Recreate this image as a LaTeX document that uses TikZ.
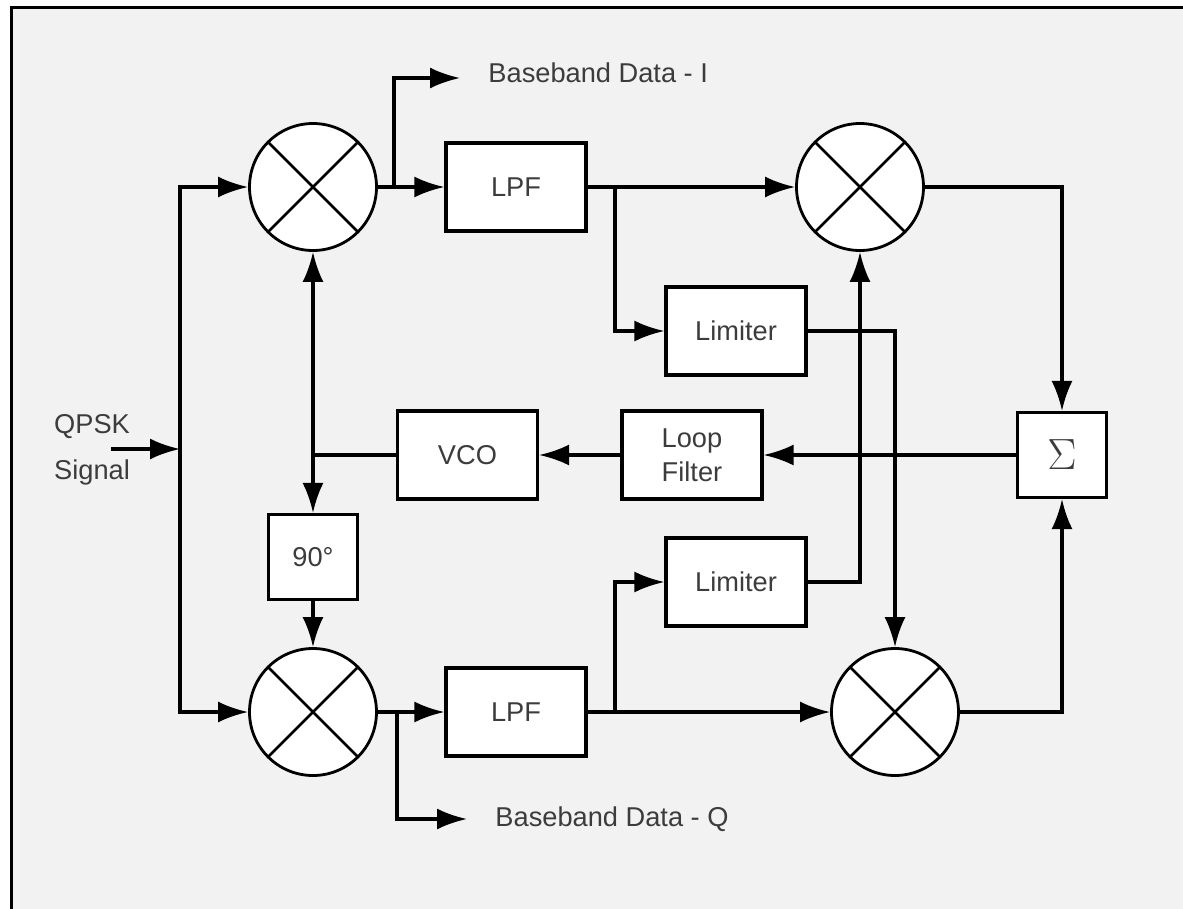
\documentclass[tikz,border=0pt]{standalone}
\usepackage{amsmath}
\usepackage{fontspec}
\setmainfont{Liberation Sans}
\usepackage{tikz}
\usetikzlibrary{positioning,arrows.meta,calc}
\definecolor{bgcol}{RGB}{241,242,241}
\definecolor{txtcol}{RGB}{60,60,60}

\begin{document}
\begin{tikzpicture}[
    >={Latex[length=6mm,width=4.2mm]},
    line width=1.8pt,
    every node/.style={font=\fontsize{15.5}{19.5}\selectfont, text=txtcol},
    blk/.style={draw, fill=white, minimum width=2.8cm, minimum height=1.76cm, inner sep=0pt},
    sq/.style={draw, fill=white, minimum width=1.78cm, minimum height=1.7cm, inner sep=0pt},
    mix/.style={draw, circle, fill=white, minimum size=2.54cm, inner sep=0pt, line width=1.6pt,
        path picture={\draw[line width=1.5pt]
            (path picture bounding box.north west) -- (path picture bounding box.south east)
            (path picture bounding box.north east) -- (path picture bounding box.south west);}}
  ]
    %frame
    \clip (0,0) rectangle (23.66,-18.18);
    \fill[bgcol] (0.23,-0.146) rectangle (24,-19);
    \draw (0.23,-19) |- (24,-0.146);

    %coordinates
    \coordinate (in)    at (2.22,-8.98);
    \coordinate (split) at (3.6,-8.98);
    \coordinate (lo)    at (6.26,-9.1);

    \coordinate (bI)  at (7.88,-3.74);
    \coordinate (outI) at ($(bI) + (1.32,2.18)$);
    \coordinate (bQ)  at (7.94,-14.24);
    \coordinate (outQ) at ($(bQ) + (1.4,-2.14)$);

    \coordinate (brI) at (12.3,-3.74);
    \coordinate (brQ) at (12.3,-14.24);

    %nodes
    \node[mix] (MI) at (6.26,-3.74) {};
    \node[mix] (MQ) at (6.26,-14.24) {};
    \node[mix] (MA) at (17.2,-3.74) {};
    \node[mix] (MB) at (17.9,-14.24) {};

    \node[blk] (LPFI) at (10.32,-3.74) {LPF};
    \node[blk] (LPFQ) at (10.32,-14.24) {LPF};
    \node[blk] (LimI) at (14.72,-6.62) {Limiter};
    \node[blk] (LimQ) at (14.72,-11.64) {Limiter};

    \node[blk] (VCO) at (9.35,-9.1) {VCO};
    \node[blk, align=center] (LF) at (13.84,-9.1) {Loop\\Filter};
    \node[sq, font=\fontsize{25}{27}\selectfont] (Sum) at (21.24,-9.1) {$\Sigma$};
    \node[sq] (Shift) at (6.26,-11.14) {90°};

    \node[align=center, font=\fontsize{15.5}{26}\selectfont] (qpsk) at (1.84,-9.0) {QPSK\\Signal};
    \node[right=4.2mm of outI, yshift=1mm] (txtI) {Baseband Data - I};
    \node[right=4.2mm of outQ] (txtQ) {Baseband Data - Q};

    %edges
    \draw[->] (in) -- (split);
    \draw[->] (split) |- (MI);
    \draw[->] (split) |- (MQ);

    \draw[->] (MI) -- (LPFI);
    \draw[->] (bI) |- (outI);
    \draw[->] (MQ) -- (LPFQ);
    \draw[->] (bQ) |- (outQ);

    \draw[->] (LPFI) -- (MA);
    \draw[->] (brI) |- (LimI);
    \draw[->] (LPFQ) -- (MB);
    \draw[->] (brQ) |- (LimQ);

    \draw[->] (LimI) -| (MB);
    \draw[->] (LimQ) -| (MA);

    \draw[->] (MA) -| (Sum);
    \draw[->] (MB) -| (Sum);
    \draw[->] (Sum) -- (LF);
    \draw[->] (LF) -- (VCO);

    \draw (VCO) -- (lo);
    \draw[->] (lo) -- (MI);
    \draw[->] (lo) -- (Shift);
    \draw[->] (Shift) -- (MQ);
  \end{tikzpicture}
\end{document}
